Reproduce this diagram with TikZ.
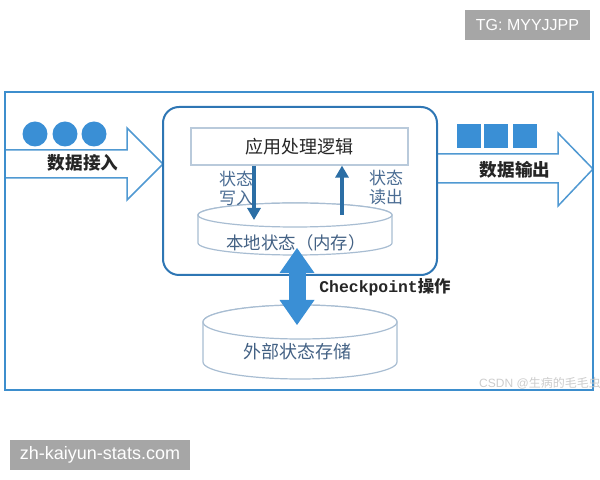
\documentclass[tikz,border=0pt]{standalone}
\usepackage{fontspec}
\setmainfont{Liberation Sans}
\newfontfamily\cjk{Noto Sans CJK SC}
\newfontfamily\ckfont{Liberation Mono}
\usetikzlibrary{positioning, arrows.meta, calc}
\definecolor{frameblue}{HTML}{3D8ECD}
\definecolor{boxblue}{HTML}{2E76B4}
\definecolor{dotblue}{HTML}{3A8FD5}
\definecolor{arrowblue}{HTML}{2B6EA5}
\definecolor{labelblue}{HTML}{4A6C93}
\definecolor{cylgray}{HTML}{A8BDD2}
\definecolor{wmgray}{HTML}{A6A6A6}
\tikzset{
  flowarrow/.style={draw=frameblue!90, line width=0.75pt, fill=white, line join=miter},
  process/.style={rectangle, draw=cylgray!80, line width=0.6pt, fill=white, minimum width=108.5pt, minimum height=18.5pt, text=black!85, font=\cjk\fontsize{9}{11}\selectfont},
  cylbody/.style={draw=cylgray, line width=0.6pt, fill=white},
  dbtext/.style={text=labelblue!90!black, font=\cjk\fontsize{8.7}{10}\selectfont},
  dot/.style={circle, fill=dotblue, minimum size=12.5pt, inner sep=0pt},
  block/.style={rectangle, fill=dotblue, minimum size=12pt, inner sep=0pt},
  flowlabel/.style={text=black!85, font=\cjk\bfseries\fontsize{8.8}{10}\selectfont},
  statelabel/.style={text=labelblue, align=center, font=\cjk\fontsize{8.5}{9.5}\selectfont},
  statearrow/.style={draw=arrowblue, line width=1.9pt, -{Triangle[width=6.5pt,length=6pt]}},
  ckarrow/.style={draw=dotblue, line width=8.5pt, {Triangle[width=17.5pt,length=12.5pt,line width=0pt]}-{Triangle[width=17.5pt,length=12.5pt,line width=0pt]}},
  watermark/.style={fill=wmgray, text=white, inner sep=0pt, minimum height=15pt}
}

\begin{document}
\begin{tikzpicture}[x=0.5pt, y=-0.5pt]
    \useasboundingbox (0,0) rectangle (600,480);

    % data in / data out
    \draw [flowarrow] (5,150) -- (127,150) -- (127,128) -- (163,164) -- (127,200) -- (127,178) -- (5,178);
    \draw [flowarrow] (437,154) -- (558,154) -- (558,133) -- (593,169) -- (558,206) -- (558,183) -- (437,183);

    \node (in1) [dot] at (35,134) {};
    \node (in2) [dot] at (65,134) {};
    \node (in3) [dot] at (94,134) {};
    \node (inlabel) [flowlabel] at (83,163) {数据接入};

    \node (out1) [block] at (469,136) {};
    \node (out2) [block] at (496,136) {};
    \node (out3) [block] at (525,136) {};
    \node (outlabel) [flowlabel] at (515,170) {数据输出};

    % task
    \node (task) [draw=boxblue, line width=1pt, fill=white, rounded corners=8pt, minimum width=137pt, minimum height=84pt] at (300,191) {};
    \node (app) [process] at (299.5,146.5) {应用处理逻辑};

    % local state
    \filldraw [cylbody] (198,215) -- (198,243) arc[start angle=180, end angle=360, x radius=48.5pt, y radius=6pt]
        -- (392,215) arc[start angle=0, end angle=180, x radius=48.5pt, y radius=6pt] -- cycle;
    \draw [cylbody] (295,215) ellipse [x radius=48.5pt, y radius=6pt];
    \node (local) [dbtext] at (296,243) {本地状态（内存）};

    \coordinate (wrEnd) at (254,220);
    \coordinate (rdStart) at (342,215);
    \draw [statearrow] (app.south -| wrEnd) -- (wrEnd);
    \draw [statearrow] (rdStart) -- (app.south -| rdStart);
    \node (wrlabel) [statelabel] at (236,188) {状态\\写入};
    \node (rdlabel) [statelabel] at (386,188) {状态\\读出};

    % external state
    \filldraw [cylbody] (203,322) -- (203,362) arc[start angle=180, end angle=360, x radius=48.5pt, y radius=8.5pt]
        -- (397,322) arc[start angle=0, end angle=180, x radius=48.5pt, y radius=8.5pt] -- cycle;
    \draw [cylbody] (300,322) ellipse [x radius=48.5pt, y radius=8.5pt];
    \node (extdb) [dbtext, font=\cjk\fontsize{9}{10}\selectfont] at (297,352) {外部状态存储};

    % checkpoint
    \coordinate (ckTop) at (297,248);
    \coordinate (ckBot) at (297,325);
    \draw [ckarrow] (ckTop) -- (ckBot);
    \node (cklabel) [anchor=west, text=black!85, inner sep=0pt] at (319,287)
        {{\ckfont\bfseries\fontsize{8.2}{10}\selectfont Checkpoint}{\cjk\bfseries\fontsize{8.2}{10}\selectfont 操作}};

    % frame
    \draw [frameblue, line width=1.25pt] (5,92) rectangle (593,390);

    % marks
    \node (tg) [watermark, minimum width=62.5pt, font=\fontsize{8}{9}\selectfont] at (527.5,25) {TG: MYYJJPP};
    \node (site) [watermark, minimum width=90pt, font=\fontsize{9}{10}\selectfont] at (100,455) {zh-kaiyun-stats.com};
    \node (csdn) [text=black!20, font=\fontsize{6}{7}\selectfont] at (540,383) {CSDN @{\cjk 生病的毛毛虫}};
\end{tikzpicture}
\end{document}
